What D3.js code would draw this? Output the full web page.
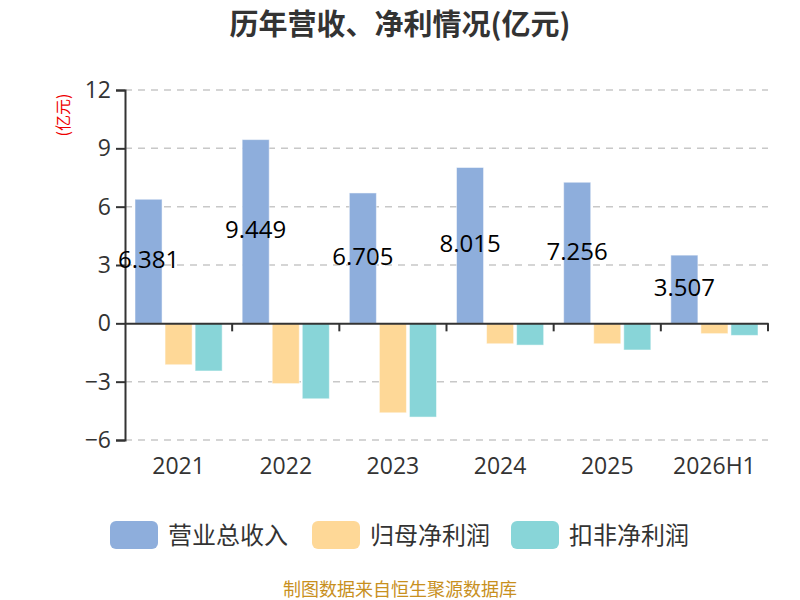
<!DOCTYPE html>
<html><head><meta charset="utf-8">
<script src="https://cdn.jsdelivr.net/npm/d3@7"></script>
<style>body{margin:0;background:#fff}svg{display:block}</style>
</head><body>
<svg id="c" width="800" height="600"></svg>
<script>
const categories = ["2021","2022","2023","2024","2025","2026H1"];
const seriesNames = ["营业总收入","归母净利润","扣非净利润"];
const revenue = [6.381, 9.449, 6.705, 8.015, 7.256, 3.507];
const netProfit = [-2.13, -3.10, -4.60, -1.05, -1.05, -0.53];
const deductedProfit = [-2.45, -3.88, -4.82, -1.12, -1.37, -0.62];
const yTicks = [-6, -3, 0, 3, 6, 9, 12];
const colors = ["#8eaedc", "#fed897", "#88d5d8"];
const FONT = "'Open Sans','Noto Sans CJK SC',sans-serif";
const CJK = "'Noto Sans CJK SC',sans-serif";

const svg = d3.select("#c");
const m = {left:125, right:768, top:90, bottom:440};
const x = d3.scaleBand().domain(categories).range([m.left, m.right]);
const y = d3.scaleLinear().domain([-6, 12]).range([m.bottom, m.top]);
const xs = d3.scaleBand().domain([0,1,2]).range([10, x.bandwidth()-10]).paddingInner(0.1).paddingOuter(0);

// title
svg.append("text").attr("x",400).attr("y",35).attr("text-anchor","middle")
  .attr("font-family",CJK).attr("font-weight","bold")
  .attr("font-size",29).attr("fill","#333").text("历年营收、净利情况(亿元)");

// y label
svg.append("text").attr("transform","translate(69,115) rotate(-90)").attr("text-anchor","middle")
  .attr("font-family",CJK).attr("font-size",16).attr("fill","#e00")
  .text("(亿元)");

// grid
svg.append("g").selectAll("line").data(yTicks.filter(d=>d!==0)).join("line")
  .attr("x1",m.left).attr("x2",m.right).attr("y1",d=>y(d)).attr("y2",d=>y(d))
  .attr("stroke","#c8c8c8").attr("stroke-width",1.5).attr("stroke-dasharray","7,6");

// y axis
const ya = svg.append("g").attr("transform",`translate(${m.left},0)`)
  .call(d3.axisLeft(y).tickValues(yTicks).tickSize(9).tickPadding(5).tickFormat(d3.format("d")));
ya.select(".domain").attr("stroke","#333").attr("stroke-width",2);
ya.selectAll(".tick line").attr("stroke","#333").attr("stroke-width",2);
ya.selectAll(".tick text").attr("font-family",FONT).attr("font-size",23).attr("fill","#333");

// bars
const data = [revenue, netProfit, deductedProfit];
data.forEach((arr, si) => {
  svg.append("g").selectAll("rect").data(arr).join("rect")
    .attr("x",(d,i)=>x(categories[i]) + xs(si))
    .attr("width",xs.bandwidth())
    .attr("y",d=>y(Math.max(0,d)))
    .attr("height",d=>Math.abs(y(d)-y(0)))
    .attr("fill",colors[si]).attr("stroke","rgba(255,255,255,0.5)").attr("stroke-width",1);
});

// x axis at 0
const xa = svg.append("g").attr("transform",`translate(0,${y(0)})`)
  .call(d3.axisBottom(x).tickSize(0).tickFormat(""));
xa.select(".domain").attr("stroke","#333").attr("stroke-width",2);
svg.append("g").selectAll("line").data(categories).join("line")
  .attr("x1",d=>x(d)+x.bandwidth()).attr("x2",d=>x(d)+x.bandwidth())
  .attr("y1",y(0)).attr("y2",y(0)+8).attr("stroke","#333").attr("stroke-width",2);

// category labels
svg.append("g").selectAll("text").data(categories).join("text")
  .attr("x",d=>x(d)+x.bandwidth()/2).attr("y",474).attr("text-anchor","middle")
  .attr("font-family",FONT).attr("font-size",23).attr("fill","#333").text(d=>d);

// value labels
svg.append("g").selectAll("text").data(revenue).join("text")
  .attr("x",(d,i)=>x(categories[i]) + xs(0) + xs.bandwidth()/2)
  .attr("y",d=>(y(d)+y(0))/2 + 7).attr("text-anchor","middle")
  .attr("font-family",FONT).attr("font-size",24).attr("fill","#000").text(d=>d3.format(".3f")(d));

// legend
const legX = [110, 312, 511];
const lg = svg.append("g");
seriesNames.forEach((n,i)=>{
  lg.append("rect").attr("x",legX[i]).attr("y",521).attr("width",48).attr("height",28).attr("rx",6)
    .attr("fill",colors[i]);
  lg.append("text").attr("x",legX[i]+58).attr("y",544).attr("font-family",CJK)
    .attr("font-size",24).attr("fill","#333").text(n);
});

// footer
svg.append("text").attr("x",400).attr("y",596).attr("text-anchor","middle")
  .attr("font-family",CJK).attr("font-size",18).attr("fill","#c8901e")
  .text("制图数据来自恒生聚源数据库");
</script>
</body></html>
